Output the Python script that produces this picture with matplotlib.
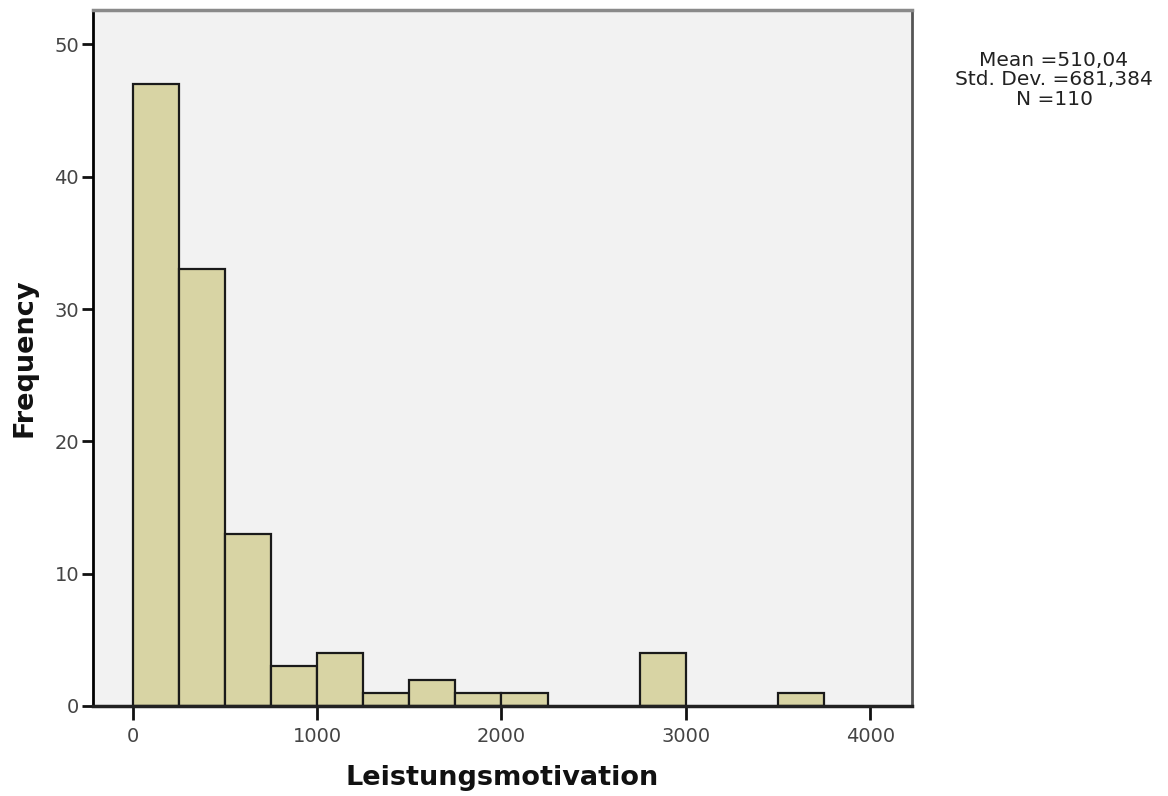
import numpy as np
from matplotlib import pyplot as plt

# histogram of Leistungsmotivation, bin width 250
bin_edges = [0, 250, 500, 750, 1000, 1250, 1500, 1750, 2000, 2250,
             2500, 2750, 3000, 3250, 3500, 3750]
counts = [47, 33, 13, 3, 4, 1, 2, 1, 1, 0, 0, 4, 0, 0, 1]
stats_text = "Mean =510,04\nStd. Dev. =681,384\nN =110"

fig = plt.figure(figsize=(11.68, 7.96), dpi=100)
ax = fig.add_axes([0.0796, 0.1131, 0.7010, 0.8744])
ax.set_facecolor('#f2f2f2')

lefts = np.array(bin_edges[:-1])
widths = np.diff(bin_edges)
for x, w, c in zip(lefts, widths, counts):
    if c > 0:
        ax.bar(x, c, width=w, align='edge', color='#d8d4a4',
               edgecolor='#1a1a1a', linewidth=1.6, zorder=2)

ax.set_xlim(-215, 4225)
ax.set_ylim(0, 52.6)
ax.set_xticks([0, 1000, 2000, 3000, 4000])
ax.set_yticks([0, 10, 20, 30, 40, 50])
ax.tick_params(axis='x', length=10, width=2, colors='#111111',
               labelcolor='#444444', labelsize=14, pad=5)
ax.tick_params(axis='y', length=8, width=2, colors='#111111',
               labelcolor='#444444', labelsize=14, pad=2)

ax.spines['left'].set_linewidth(2)
ax.spines['bottom'].set_linewidth(2.5)
ax.spines['bottom'].set_color('#222222')
ax.spines['top'].set_color('#8a8a8a')
ax.spines['top'].set_linewidth(2.5)
ax.spines['right'].set_color('#555555')
ax.spines['right'].set_linewidth(2)

ax.set_xlabel('Leistungsmotivation', fontsize=19.5, fontweight='bold',
              labelpad=14, color='#111111')
ax.set_ylabel('Frequency', fontsize=19.5, fontweight='bold',
              labelpad=12, color='#111111')

fig.text(0.9024, 0.936, stats_text, ha='center', va='top', fontsize=14.5,
         color='#222222', linespacing=1.02)

fig.savefig('out.png', dpi=100)
